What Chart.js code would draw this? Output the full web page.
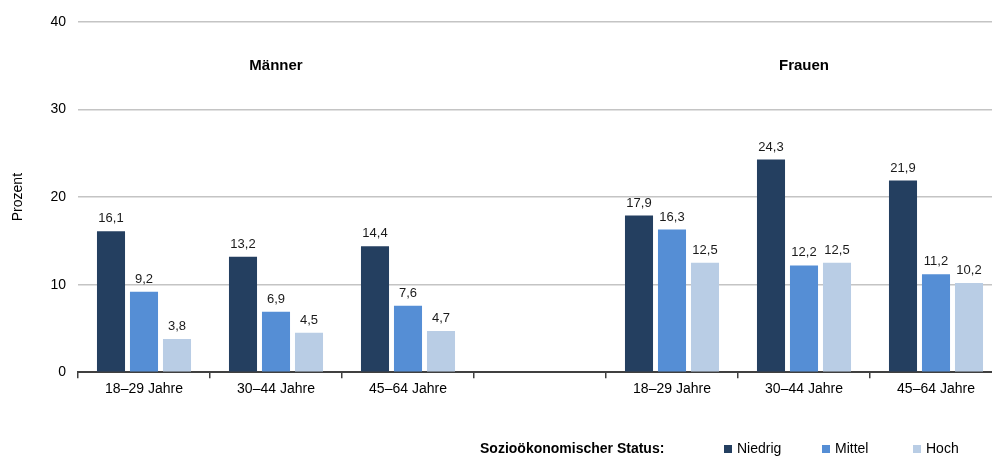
<!DOCTYPE html>
<html>
<head>
<meta charset="utf-8">
<script src="https://cdn.jsdelivr.net/npm/chart.js@4.4.1/dist/chart.umd.min.js"></script>
<style>
  html, body { margin: 0; padding: 0; background: #fff; overflow: hidden; }
  #wrap { width: 992px; height: 457px; overflow: hidden; position: relative; }
  canvas { display: block; }
</style>
</head>
<body>
<div id="wrap"><canvas id="c" width="1002" height="457"></canvas></div>
<script>
const categories = ['18–29 Jahre', '30–44 Jahre', '45–64 Jahre', '', '18–29 Jahre', '30–44 Jahre', '45–64 Jahre'];
const groupTitles = ['Männer', 'Frauen'];
const groupTitleIndex = [1, 5];
const seriesNames = ['Niedrig', 'Mittel', 'Hoch'];
const niedrig = [16.1, 13.2, 14.4, null, 17.9, 24.3, 21.9];
const mittel  = [9.2, 6.9, 7.6, null, 16.3, 12.2, 11.2];
const hoch    = [3.8, 4.5, 4.7, null, 12.5, 12.5, 10.2];
const yTicks = [0, 10, 20, 30, 40];
const legendTitle = 'Sozioökonomischer Status:';
const yTitle = 'Prozent';

const colors = ['#243f60', '#558ed5', '#b9cde5'];
const FONT = "'Liberation Sans', Arial, sans-serif";

const fmt = v => v.toFixed(1).replace('.', ',');

const overlay = {
  id: 'overlay',
  afterDatasetsDraw(chart) {
    const ctx = chart.ctx;
    ctx.save();
    // data labels
    ctx.font = '13px ' + FONT;
    ctx.fillStyle = '#1a1a1a';
    ctx.textAlign = 'center';
    ctx.textBaseline = 'bottom';
    chart.data.datasets.forEach((ds, i) => {
      const meta = chart.getDatasetMeta(i);
      meta.data.forEach((el, j) => {
        const v = ds.data[j];
        if (v == null) return;
        ctx.fillText(fmt(v), el.x, el.y - 6);
      });
    });
    // group titles
    const xs = chart.scales.x;
    ctx.font = 'bold 15px ' + FONT;
    ctx.fillStyle = '#000';
    ctx.textBaseline = 'middle';
    groupTitles.forEach((t, k) => {
      ctx.fillText(t, xs.getPixelForValue(groupTitleIndex[k]), 66);
    });
    // legend
    const ly = 449;
    ctx.textAlign = 'left';
    ctx.font = 'bold 14px ' + FONT;
    ctx.fillText(legendTitle, 480, ly);
    ctx.font = '14px ' + FONT;
    const boxX = [724, 822, 913];
    chart.data.datasets.forEach((ds, i) => {
      ctx.fillStyle = ds.backgroundColor;
      ctx.fillRect(boxX[i], ly - 4, 8, 8);
      ctx.fillStyle = '#000';
      ctx.fillText(ds.label, boxX[i] + 13, ly);
    });
    ctx.restore();
  }
};

new Chart(document.getElementById('c'), {
  type: 'bar',
  data: {
    labels: categories,
    datasets: [
      { label: seriesNames[0], data: niedrig, backgroundColor: colors[0] },
      { label: seriesNames[1], data: mittel, backgroundColor: colors[1] },
      { label: seriesNames[2], data: hoch, backgroundColor: colors[2] }
    ]
  },
  options: {
    responsive: false,
    animation: false,
    devicePixelRatio: 1,
    layout: { padding: { top: 22, right: 0, bottom: 56, left: 0 } },
    datasets: { bar: { categoryPercentage: 0.75, barPercentage: 0.85 } },
    plugins: { legend: { display: false }, tooltip: { enabled: false } },
    scales: {
      x: {
        offset: true,
        grid: { offset: true, drawOnChartArea: false, drawTicks: true, tickLength: 6, color: '#404040', lineWidth: 1.5 },
        border: { display: true, color: '#404040', width: 2 },
        ticks: { font: { family: FONT, size: 14 }, color: '#000', padding: 3, maxRotation: 0, autoSkip: false }
      },
      y: {
        min: 0, max: 40,
        afterBuildTicks: s => { s.ticks = yTicks.map(v => ({ value: v })); },
        afterFit: s => { s.width = 78; },
        grid: { drawTicks: false, color: c => c.tick && c.tick.value === 0 ? 'rgba(0,0,0,0)' : '#c4c4c4', lineWidth: 1.5 },
        border: { display: false },
        ticks: { font: { family: FONT, size: 14 }, color: '#000', padding: 12 },
        title: { display: true, text: yTitle, font: { family: FONT, size: 14 }, color: '#000', padding: { top: 10, bottom: 0 } }
      }
    }
  },
  plugins: [overlay]
});
</script>
</body>
</html>
